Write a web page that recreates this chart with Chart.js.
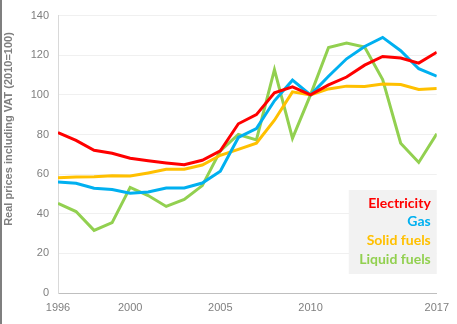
<!DOCTYPE html>
<html>
<head>
<meta charset="utf-8">
<script src="https://cdn.jsdelivr.net/npm/chart.js@4"></script>
<style>
  html, body { margin: 0; padding: 0; background: #fff; }
  #wrap { position: relative; width: 457px; height: 324px; }
  #wrap::before { content: ""; position: absolute; left: 0; top: 0; bottom: 0; width: 2px; background: #7f7f7f; z-index: 2; }
</style>
</head>
<body>
<div id="wrap"><canvas id="chart"></canvas></div>
<script>
// DATA
const years = [1996, 1997, 1998, 1999, 2000, 2001, 2002, 2003, 2004, 2005, 2006,
               2007, 2008, 2009, 2010, 2011, 2012, 2013, 2014, 2015, 2016, 2017];
const electricity = [81, 77, 72, 70.5, 68, 66.7, 65.6, 64.7, 67, 71.7, 85.4,
                     90, 101, 104, 100, 105, 109, 115, 119.4, 118.6, 116, 121.5];
const gas = [56, 55.4, 52.9, 52.2, 50.3, 51, 53, 53, 55.5, 61.5, 78.5,
             83, 97, 107.4, 100, 109.4, 118.2, 124.4, 129, 122.3, 113.2, 109.4];
const solidFuels = [58.2, 58.5, 58.7, 59.2, 59, 60.6, 62.4, 62.5, 64.6, 69.5, 72.5,
                    75.6, 87.2, 101.5, 100, 103, 104.4, 104.2, 105.5, 105.2, 102.7, 103.2];
const liquidFuels = [45.3, 41.1, 31.6, 35.5, 53.3, 49.2, 43.7, 47.2, 54.2, 71.7, 80,
                     77.3, 112.7, 78.1, 100, 123.9, 126.1, 124.1, 107.7, 75.6, 65.9, 80.4];
const xTicks = [1996, 2000, 2005, 2010, 2017];

const seriesNames = ["Electricity", "Gas", "Solid fuels", "Liquid fuels"];
const seriesColors = ["#ff0000", "#00b0f0", "#ffc000", "#92d050"];
const seriesValues = [electricity, gas, solidFuels, liquidFuels];
const yTitle = "Real prices including VAT (2010=100)";

// LEGEND BOX (bottom right of the plot) + y axis title
const extras = {
  id: "extras",
  afterDatasetsDraw(chart) {
    const { ctx, chartArea } = chart;
    const w = 88, h = 84;
    const x = chartArea.right - w, y = chartArea.bottom - 19 - h;
    ctx.save();
    ctx.fillStyle = "#f2f2f2";
    ctx.fillRect(x, y, w, h);
    ctx.font = "bold 14px Lato";
    ctx.textAlign = "right";
    ctx.textBaseline = "middle";
    chart.data.datasets.forEach((ds, i) => {
      ctx.fillStyle = ds.borderColor;
      ctx.fillText(ds.label, x + w - 6, y + 13 + i * 18.7);
    });
    ctx.restore();

    // rotated title, sits a bit above the plot's middle
    ctx.save();
    ctx.translate(11.5, 129);
    ctx.rotate(-Math.PI / 2);
    ctx.font = "bold 11px 'Liberation Sans'";
    ctx.fillStyle = "#7f7f7f";
    ctx.textAlign = "center";
    ctx.textBaseline = "alphabetic";
    ctx.fillText(yTitle, 0, 0);
    ctx.restore();
  }
};

// GRAPH
const ctx = document.getElementById("chart").getContext("2d");
const chart = new Chart(ctx, {
  type: "line",
  data: {
    datasets: seriesNames.map((name, i) => ({
      label: name,
      data: years.map((yr, j) => ({ x: yr, y: seriesValues[i][j] })),
      borderColor: seriesColors[i],
      backgroundColor: seriesColors[i],
      borderWidth: 3,
      pointRadius: 0,
      tension: 0
    }))
  },
  options: {
    responsive: true,
    maintainAspectRatio: false,
    animation: false,
    layout: { padding: { top: 14, right: 19, left: 0, bottom: 0 } },
    plugins: { legend: { display: false }, tooltip: { enabled: false } },
    scales: {
      x: {
        type: "linear",
        min: 1996,
        max: 2017,
        afterBuildTicks: (axis) => { axis.ticks = xTicks.map(v => ({ value: v })); },
        afterFit: (axis) => { axis.height = 31; },
        grid: { display: false, drawTicks: false },
        border: { color: "#bfbfbf", width: 1 },
        ticks: {
          autoSkip: false,
          maxRotation: 0,
          padding: 8,
          color: "#7f7f7f",
          font: { family: "Liberation Sans", size: 11 },
          callback: (v) => String(v)
        }
      },
      y: {
        min: 0,
        max: 140,
        afterFit: (axis) => { axis.width = 58; },
        grid: { color: "#f0f0f0", drawTicks: false },
        border: { color: "#d9d9d9", width: 1 },
        ticks: {
          stepSize: 20,
          padding: 9,
          color: "#7f7f7f",
          font: { family: "Liberation Sans", size: 11 }
        }
      }
    }
  },
  plugins: [extras]
});
</script>
</body>
</html>
